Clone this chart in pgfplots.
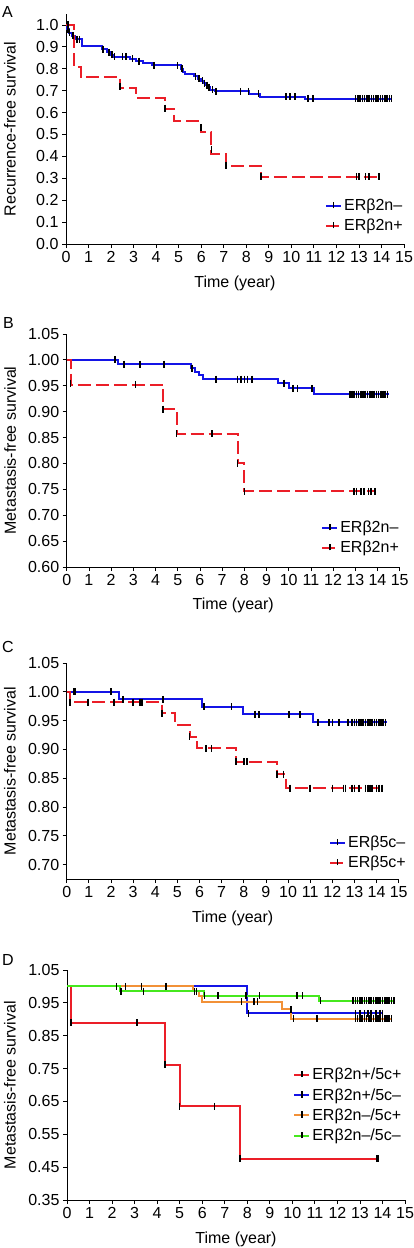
\documentclass[border=0pt]{standalone}
\usepackage{fontspec}
\setmainfont{Liberation Sans}
\usepackage{pgfplots}
\pgfplotsset{compat=1.18}
\definecolor{kmblue}{RGB}{20,20,230}
\definecolor{kmred}{RGB}{235,30,40}
\definecolor{kmorange}{RGB}{242,145,55}
\definecolor{kmgreen}{RGB}{70,232,30}
\newcommand{\fs}{\fontsize{16}{19}\selectfont}
\pgfplotsset{
 kmaxis/.style={scale only axis, xmin=0, xmax=15, xtick={0,...,15},
   axis x line*=bottom, axis y line*=left, axis line style={-, line width=0.8pt, black},
   tick align=outside, major tick length=4pt, tick style={line width=0.8pt, black},
   tick label style={font=\fs}, label style={font=\fs},
   /pgf/number format/assume math mode=true, scaled y ticks=false, clip=false,
   legend cell align=left,
   legend style={draw=none, fill=none, font=\fs, inner sep=0pt, row sep=3pt, anchor=north west},
   xlabel={Time (year)}},
 censor/.style={only marks, mark=|, mark size=3.5pt, mark options={black, solid, line width=1.6pt}, forget plot},
 km/.style={const plot, line width=2pt, mark=none},
 kmdash/.style={dash pattern=on 13pt off 5pt},
 kmleg/.style={legend image code/.code={\draw[##1, line width=2pt] (0pt,0pt) -- (15pt,0pt); \draw[black, solid, line width=1.5pt] (7.5pt,-2.5pt) -- (7.5pt,4pt);}},
}
\begin{document}
\begin{tikzpicture}
\useasboundingbox (0,0) rectangle (414pt,-1248pt);
% ---------------- A ----------------
\begin{axis}[kmaxis, at={(66pt,-244pt)}, anchor=south west, width=338pt, height=230pt,
  ymin=0, ymax=1.05, ytick={0,0.1,0.2,0.3,0.4,0.5,0.6,0.7,0.8,0.9,1.0},
  yticklabel style={/pgf/number format/.cd, fixed, fixed zerofill, precision=1},
  ylabel={Recurrence-free survival},
  xlabel style={at={(axis description cs:0.5,-0.17)}, anchor=center},
  ylabel style={at={(axis description cs:-0.166,0.5)}, anchor=center},
  legend style={at={(axis description cs:0.766,0.204)}}]
\addplot[km, kmblue, kmleg] coordinates {(0,1)(0.05,0.98)(0.12,0.965)(0.25,0.95)(0.4,0.935)(0.7,0.905)(1.6,0.89)(1.8,0.875)(2.0,0.865)(2.1,0.855)(2.85,0.845)(3.1,0.835)(3.4,0.825)(3.8,0.815)(5.1,0.80)(5.2,0.785)(5.3,0.775)(5.7,0.765)(5.85,0.755)(6.0,0.745)(6.1,0.735)(6.2,0.725)(6.3,0.715)(6.4,0.705)(6.6,0.697)(8.1,0.685)(8.6,0.673)(10.6,0.664)(14.45,0.664)};
\addlegendentry{ERβ2n–}
\addplot[km, kmred, kmdash, kmleg] coordinates {(0,1)(0.35,0.81)(0.65,0.762)(2.4,0.714)(3.1,0.667)(4.4,0.615)(4.8,0.562)(6.0,0.51)(6.45,0.41)(7.1,0.357)(8.65,0.306)(13.9,0.306)};
\addlegendentry{ERβ2n+}
\addplot[censor] coordinates {(0.08,0.98)(0.15,0.965)(0.3,0.95)(0.5,0.935)(0.6,0.935)(1.65,0.89)(1.9,0.875)(2.05,0.865)(2.15,0.855)(2.5,0.855)(2.65,0.855)(2.95,0.845)(3.25,0.835)(3.9,0.815)(4.95,0.815)(5.15,0.80)(5.75,0.765)(5.9,0.755)(6.05,0.745)(6.15,0.735)(6.25,0.725)(6.35,0.715)(6.5,0.705)(6.65,0.697)(7.75,0.697)(8.1,0.697)(8.55,0.685)(9.75,0.673)(9.95,0.673)(10.15,0.673)(10.75,0.664)(10.95,0.664)(12.85,0.664)(12.95,0.664)(13.05,0.664)(13.15,0.664)(13.25,0.664)(13.35,0.664)(13.45,0.664)(13.55,0.664)(13.65,0.664)(13.75,0.664)(13.85,0.664)(13.95,0.664)(14.05,0.664)(14.15,0.664)(14.25,0.664)(14.35,0.664)(14.45,0.664)};
\addplot[censor] coordinates {(0.1,1.0)(2.4,0.72)(4.4,0.62)(6.0,0.53)(6.45,0.43)(7.1,0.36)(8.65,0.31)(12.9,0.306)(13.0,0.306)(13.3,0.306)(13.45,0.306)(13.9,0.306)};
\end{axis}
\node[anchor=west, font=\fs, inner sep=0pt] at (2pt,-12pt) {A};
% ---------------- B ----------------
\begin{axis}[kmaxis, at={(66.7pt,-567pt)}, anchor=south west, width=333pt, height=233pt,
  ymin=0.6, ymax=1.05, ytick={0.6,0.65,0.7,0.75,0.8,0.85,0.9,0.95,1.0,1.05},
  yticklabel style={/pgf/number format/.cd, fixed, fixed zerofill, precision=2},
  ylabel={Metastasis-free survival},
  xlabel style={at={(axis description cs:0.5,-0.163)}, anchor=center},
  ylabel style={at={(axis description cs:-0.170,0.5)}, anchor=center},
  legend style={at={(axis description cs:0.764,0.206)}}]
\addplot[km, kmblue, kmleg] coordinates {(0,1)(2.3,0.992)(5.6,0.984)(5.8,0.976)(5.95,0.970)(6.15,0.963)(9.5,0.955)(10.0,0.945)(11.15,0.934)(14.5,0.934)};
\addlegendentry{ERβ2n–}
\addplot[km, kmred, kmdash, kmleg] coordinates {(0,1)(0.18,0.952)(4.35,0.905)(4.95,0.857)(7.7,0.80)(8.0,0.746)(13.95,0.746)};
\addlegendentry{ERβ2n+}
\addplot[censor] coordinates {(2.17,1.0)(2.58,0.992)(3.3,0.992)(4.38,0.992)(5.65,0.984)(6.72,0.963)(7.7,0.963)(7.85,0.963)(8.0,0.963)(8.15,0.963)(8.35,0.963)(9.8,0.955)(10.2,0.945)(10.4,0.945)(11.05,0.945)(12.75,0.934)(12.85,0.934)(12.95,0.934)(13.05,0.934)(13.15,0.934)(13.25,0.934)(13.35,0.934)(13.45,0.934)(13.55,0.934)(13.65,0.934)(13.75,0.934)(13.85,0.934)(13.95,0.934)(14.05,0.934)(14.15,0.934)(14.25,0.934)(14.35,0.934)(14.45,0.934)};
\addplot[censor] coordinates {(0.18,0.955)(3.1,0.952)(4.35,0.905)(4.95,0.857)(6.55,0.857)(7.7,0.80)(8.0,0.746)(12.95,0.746)(13.05,0.746)(13.25,0.746)(13.4,0.746)(13.6,0.746)(13.7,0.746)(13.9,0.746)};
\end{axis}
\node[anchor=west, font=\fs, inner sep=0pt] at (3pt,-323pt) {B};
% ---------------- C ----------------
\begin{axis}[kmaxis, at={(66.7pt,-879pt)}, anchor=south west, width=332pt, height=216pt,
  ymin=0.675, ymax=1.05, ytick={0.7,0.75,0.8,0.85,0.9,0.95,1.0,1.05},
  yticklabel style={/pgf/number format/.cd, fixed, fixed zerofill, precision=2},
  ylabel={Metastasis-free survival},
  xlabel style={at={(axis description cs:0.5,-0.18)}, anchor=center},
  ylabel style={at={(axis description cs:-0.171,0.5)}, anchor=center},
  legend style={at={(axis description cs:0.79,0.208)}}]
\addplot[km, kmblue, kmleg] coordinates {(0,1)(2.36,0.987)(6.13,0.974)(7.97,0.961)(11.15,0.947)(14.45,0.947)};
\addlegendentry{ERβ5c–}
\addplot[km, kmred, kmdash, kmleg] coordinates {(0,1)(0.15,0.982)(4.3,0.963)(4.9,0.942)(5.55,0.922)(5.9,0.902)(7.65,0.879)(9.5,0.857)(9.9,0.833)(14.35,0.833)};
\addlegendentry{ERβ5c+}
\addplot[censor] coordinates {(0.3,1)(0.38,1)(2.0,1)(2.55,0.987)(4.35,0.987)(6.2,0.974)(7.45,0.974)(8.5,0.961)(8.7,0.961)(10.05,0.961)(10.55,0.961)(11.35,0.947)(11.85,0.947)(12.0,0.947)(12.3,0.947)(12.7,0.947)(12.9,0.947)(13.0,0.947)(13.1,0.947)(13.2,0.947)(13.3,0.947)(13.4,0.947)(13.5,0.947)(13.6,0.947)(13.7,0.947)(13.8,0.947)(13.9,0.947)(14.0,0.947)(14.1,0.947)(14.2,0.947)(14.3,0.947)(14.4,0.947)};
\addplot[censor] coordinates {(0.15,0.982)(0.95,0.982)(2.15,0.982)(3.0,0.982)(3.3,0.982)(3.4,0.982)(4.3,0.963)(5.55,0.922)(6.3,0.902)(6.55,0.902)(7.65,0.879)(8.0,0.879)(8.15,0.879)(9.5,0.857)(9.8,0.857)(10.1,0.833)(11.0,0.833)(12.0,0.833)(12.5,0.833)(12.6,0.833)(12.9,0.833)(13.0,0.833)(13.2,0.833)(13.5,0.833)(13.6,0.833)(13.7,0.833)(13.8,0.833)(14.0,0.833)(14.1,0.833)(14.25,0.833)};
\end{axis}
\node[anchor=west, font=\fs, inner sep=0pt] at (2pt,-647pt) {C};
% ---------------- D ----------------
\begin{axis}[kmaxis, at={(67pt,-1200pt)}, anchor=south west, width=338pt, height=230pt,
  ymin=0.35, ymax=1.05, ytick={0.35,0.45,0.55,0.65,0.75,0.85,0.95,1.05},
  yticklabel style={/pgf/number format/.cd, fixed, fixed zerofill, precision=2},
  ylabel={Metastasis-free survival},
  xlabel style={at={(axis description cs:0.5,-0.17)}, anchor=center},
  ylabel style={at={(axis description cs:-0.169,0.5)}, anchor=center},
  legend style={at={(axis description cs:0.669,0.583)}, row sep=3.3pt}]
\addplot[km, kmred, kmleg] coordinates {(0,1)(0.18,0.889)(4.36,0.762)(5.0,0.635)(7.68,0.476)(13.8,0.476)};
\addlegendentry{ERβ2n+/5c+}
\addplot[km, kmblue, kmleg] coordinates {(0,1)(8.0,0.918)(14.0,0.918)};
\addlegendentry{ERβ2n+/5c–}
\addplot[km, kmorange, kmleg] coordinates {(0,1)(5.6,0.985)(5.85,0.97)(6.0,0.953)(9.55,0.93)(9.95,0.902)(14.4,0.902)};
\addlegendentry{ERβ2n–/5c+}
\addplot[km, kmgreen, kmleg] coordinates {(0,1)(2.36,0.986)(6.1,0.972)(11.2,0.957)(14.5,0.957)};
\addlegendentry{ERβ2n–/5c–}
\addplot[censor] coordinates {(0.18,0.889)(3.1,0.889)(4.36,0.762)(5.0,0.635)(6.55,0.635)(7.68,0.476)(13.75,0.476)(13.8,0.476)};
\addplot[censor] coordinates {(8.05,0.918)(12.8,0.918)(13.0,0.918)(13.2,0.918)(13.35,0.918)(13.5,0.918)(13.7,0.918)(13.9,0.918)(14.0,0.918)};
\addplot[censor] coordinates {(2.2,1)(2.6,1)(3.3,1)(4.4,1)(5.65,0.985)(5.75,0.985)(7.75,0.953)(8.3,0.953)(8.45,0.953)(9.95,0.93)(10.05,0.902)(11.1,0.902)(12.8,0.902)(12.9,0.902)(13.0,0.902)(13.1,0.902)(13.2,0.902)(13.3,0.902)(13.4,0.902)(13.5,0.902)(13.6,0.902)(13.7,0.902)(13.8,0.902)(13.9,0.902)(14.0,0.902)(14.1,0.902)(14.2,0.902)(14.3,0.902)(14.4,0.902)};
\addplot[censor] coordinates {(2.4,0.986)(3.4,0.986)(6.1,0.972)(6.7,0.972)(7.95,0.972)(8.55,0.972)(10.2,0.972)(10.45,0.972)(11.25,0.957)(12.7,0.957)(12.8,0.957)(12.9,0.957)(13.0,0.957)(13.1,0.957)(13.2,0.957)(13.3,0.957)(13.4,0.957)(13.5,0.957)(13.6,0.957)(13.7,0.957)(13.8,0.957)(13.9,0.957)(14.0,0.957)(14.1,0.957)(14.2,0.957)(14.3,0.957)(14.4,0.957)(14.5,0.957)};
\end{axis}
\node[anchor=west, font=\fs, inner sep=0pt] at (2pt,-960pt) {D};
\end{tikzpicture}
\end{document}
